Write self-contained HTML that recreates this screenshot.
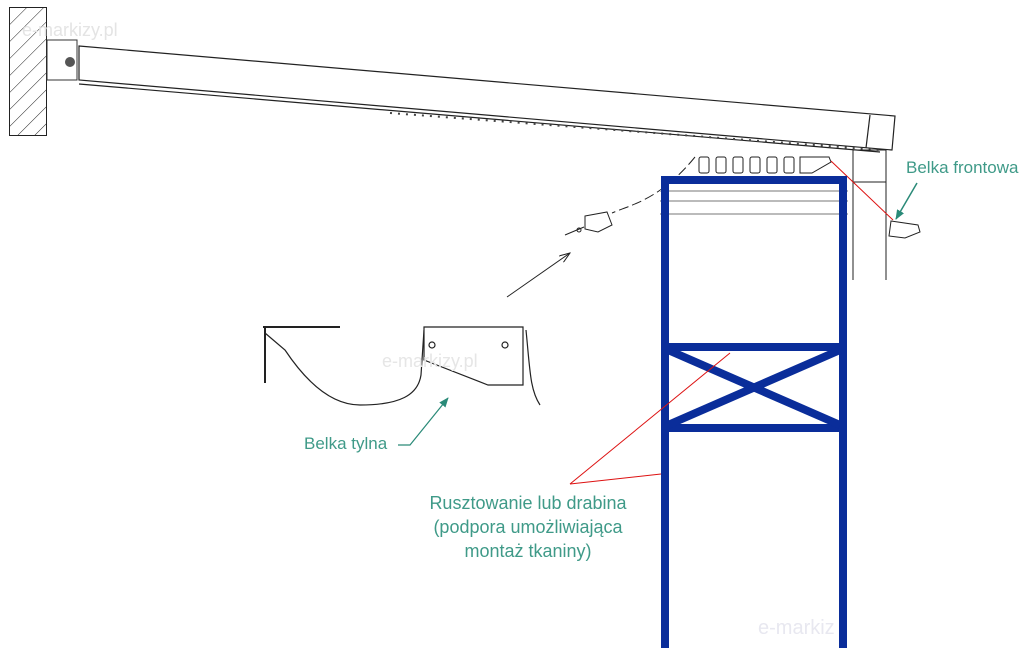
<!DOCTYPE html>
<html><head><meta charset="utf-8"><style>
html,body{margin:0;padding:0;background:#fff;width:1024px;height:648px;overflow:hidden}
svg{display:block}
text{font-family:"Liberation Sans",sans-serif}
</style></head><body>
<svg width="1024" height="648" viewBox="0 0 1024 648" xmlns="http://www.w3.org/2000/svg">
<defs>
<pattern id="h" width="12" height="12" patternUnits="userSpaceOnUse" patternTransform="rotate(45)">
<line x1="0" y1="0" x2="0" y2="12" stroke="#222" stroke-width="1"/>
</pattern>
<marker id="ta" markerWidth="10" markerHeight="8" refX="9" refY="4" orient="auto" markerUnits="userSpaceOnUse">
<path d="M0,0 L10,4 L0,8 Z" fill="#2a8a78"/></marker>
<marker id="ka" markerWidth="12" markerHeight="8" refX="11" refY="4" orient="auto" markerUnits="userSpaceOnUse">
<path d="M0,0 L11,4 L0,8" fill="none" stroke="#222" stroke-width="1"/></marker>
</defs>
<!-- wall -->
<rect x="9.5" y="7.5" width="37" height="128" fill="url(#h)" stroke="#222" stroke-width="1"/>
<text x="22" y="36" font-size="18" fill="#e4e4e4">e-markizy.pl</text>
<!-- wall bracket -->
<rect x="47" y="40" width="30" height="40" fill="none" stroke="#333" stroke-width="1"/>
<circle cx="70" cy="62" r="5" fill="#555"/>
<!-- beam -->
<g stroke="#222" stroke-width="1.2" fill="none">
<path d="M79,46 L895,116 L892,150 L79,80 Z" fill="#fff"/>
<line x1="79" y1="84" x2="880" y2="152"/>
<line x1="870" y1="115" x2="866" y2="148"/>
</g>
<!-- dots under beam -->
<path d="M390,113 L880,150" stroke="#444" stroke-width="2" stroke-dasharray="2,6" fill="none"/>
<!-- post -->
<g stroke="#222" stroke-width="1" fill="none">
<rect x="853" y="150" width="33" height="32"/>
<line x1="853" y1="150" x2="853" y2="280"/>
<line x1="886" y1="182" x2="886" y2="280"/>
</g>
<!-- bracket row -->
<g stroke="#222" stroke-width="1" fill="#fff">
<rect x="699" y="157" width="10" height="16" rx="2"/>
<rect x="716" y="157" width="10" height="16" rx="2"/>
<rect x="733" y="157" width="10" height="16" rx="2"/>
<rect x="750" y="157" width="10" height="16" rx="2"/>
<rect x="767" y="157" width="10" height="16" rx="2"/>
<rect x="784" y="157" width="10" height="16" rx="2"/>
<path d="M800,157 L829,157 L831,162 L812,173 L800,173 Z"/>
</g>
<path d="M695,157 C660,200 630,205 612,213" stroke="#222" stroke-width="1" stroke-dasharray="10,4" fill="none"/>
<path d="M585,216 L607,212 L612,225 L598,232 L585,229 Z" stroke="#222" stroke-width="1" fill="#fff"/>
<path d="M565,235 L584,227" stroke="#222" stroke-width="1" fill="none"/>
<circle cx="579" cy="230" r="2" fill="none" stroke="#222"/>
<line x1="507" y1="297" x2="570" y2="253" stroke="#222" stroke-width="1" marker-end="url(#ka)"/>
<!-- front bracket -->
<path d="M891,221 L918,225 L920,232 L905,238 L889,236 Z" stroke="#222" stroke-width="1" fill="#fff"/>
<line x1="831" y1="161" x2="893" y2="220" stroke="#d11" stroke-width="1"/>
<line x1="917" y1="183" x2="896" y2="219" stroke="#2a8a78" stroke-width="1.5" marker-end="url(#ta)"/>
<text x="906" y="173" font-size="17" fill="#3f9a88">Belka frontowa</text>
<!-- ladder -->
<g stroke="#bbb" stroke-width="2">
<line x1="660" y1="191" x2="848" y2="191"/>
<line x1="660" y1="201" x2="848" y2="201"/>
<line x1="660" y1="214" x2="848" y2="214"/>
</g>
<g stroke="#0a2d9a" stroke-width="8" fill="none">
<path d="M665,648 L665,180 L843,180 L843,648"/>
<line x1="661" y1="347" x2="847" y2="347"/>
<line x1="661" y1="428" x2="847" y2="428"/>
<line x1="668" y1="350" x2="840" y2="425"/>
<line x1="840" y1="350" x2="668" y2="425"/>
</g>
<text x="758" y="634" font-size="20" fill="#e8e8f0">e-markiz</text>
<!-- detail -->
<g stroke="#222" stroke-width="1.2" fill="none">
<line x1="263" y1="327" x2="340" y2="327" stroke-width="2"/>
<path d="M265,327 L265,383" stroke-width="2"/>
<path d="M265,333 L285,350 C305,380 330,405 360,405 C400,405 418,395 421,375 L424,330"/>
<path d="M424,327 L523,327 L523,385 L488,385 L424,360 Z" fill="#fff"/>
<circle cx="432" cy="345" r="3"/>
<circle cx="505" cy="345" r="3"/>
<path d="M526,330 C530,370 530,390 540,405"/>
</g>
<text x="382" y="367" font-size="18" fill="#e6e6e6">e-markizy.pl</text>
<path d="M398,445 L410,445 L448,398" stroke="#2a8a78" stroke-width="1.2" fill="none" marker-end="url(#ta)"/>
<text x="304" y="449" font-size="17" fill="#3f9a88">Belka tylna</text>
<!-- red leader -->
<g stroke="#d11" stroke-width="1" fill="none">
<line x1="570" y1="484" x2="730" y2="353"/>
<line x1="570" y1="484" x2="661" y2="474"/>
</g>
<g font-size="18" fill="#3f9a88" text-anchor="middle">
<text x="528" y="509">Rusztowanie lub drabina</text>
<text x="528" y="533">(podpora umożliwiająca</text>
<text x="528" y="557">montaż tkaniny)</text>
</g>
</svg>
</body></html>
